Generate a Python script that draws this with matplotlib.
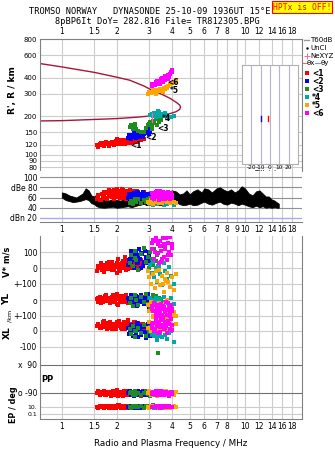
import numpy as np
import matplotlib
matplotlib.use("Agg")
import matplotlib.pyplot as plt
from matplotlib.ticker import NullLocator

W, H = 335, 451

# ---- echo classes (frequency MHz, range km, amplitude dB, V* m/s, YL km, XL km, PP deg, EP deg)
red_f   = [1.55,1.58,1.62,1.65,1.68,1.70,1.73,1.76,1.78,1.80,1.83,1.86,1.88,1.90,1.93,1.95,1.98,2.00,2.03,2.05,
           2.08,2.10,2.13,2.16,2.19,2.22,2.25,2.28,2.31,2.34,2.37,2.40,2.44,2.48,2.52,2.56,2.60,2.65,2.70,2.76] + \
          [1.57,1.63,1.69,1.74,1.81,1.87,1.92,1.97,2.02,2.07,2.12,2.18,2.24,2.30,2.36,2.42,2.50,2.58,2.64,2.72,2.80,1.99,2.21,2.46]
red_r   = [120,118,121,119,122,120,123,121,124,119,122,125,121,123,126,122,124,128,123,125,
           127,124,130,126,128,125,129,127,131,128,126,132,129,133,130,135,131,134,132,136] + \
          [116,124,117,126,118,127,119,129,121,130,122,131,124,133,125,128,134,127,137,130,133,132,121,126]
red_amp = [58,62,55,66,60,64,68,57,70,63,66,72,61,68,74,65,70,62,73,67,60,71,66,75,63,69,58,72,67,64,70,61,68,73,65,59,70,66,62,68] + \
          [64,56,70,60,74,66,58,72,64,68,76,60,70,62,74,56,66,72,60,64,70,76,68,62]
red_v   = [-20,10,5,-10,20,0,15,30,-5,10,25,0,40,15,-15,20,5,35,10,-5,25,15,0,45,20,10,-10,30,5,50,20,0,35,15,60,10,25,-5,40,20] + \
          [0,30,-25,15,40,-10,20,5,55,-20,30,10,45,-5,25,65,0,35,15,50,30,-30,70,10]
red_yl  = [5,-10,20,0,-15,10,25,-5,15,0,-20,10,5,30,-10,0,15,-25,5,20,-5,10,-15,0,25,-10,5,15,-20,0,10,-5,20,-30,5,15,-10,0,25,-5] + \
          [15,-20,5,30,-5,20,-15,10,-30,25,0,-10,35,-20,10,0,-25,15,5,-15,20,40,-5,10]
red_xl  = [30,45,20,35,55,25,40,15,50,30,60,20,35,45,25,40,10,50,30,65,35,20,45,30,55,15,40,25,50,35,20,45,30,60,25,40,50,30,15,45] + \
          [40,20,65,30,50,10,45,25,55,35,15,50,30,70,20,40,60,25,45,35,10,55,40,20]
red_pp  = [-90,-80,-100,-85,-95,-75,-105,-90,-82,-98,-88,-110,-92,-78,-100,-86,-94,-70,-90,-102,
           -84,-96,-88,-108,-80,-92,-100,-86,-94,-76,-90,-104,-82,-98,-88,-92,-84,-100,-90,-80] + \
          [-86,-96,-80,-104,-92,-84,-100,-88,-112,-94,-82,-98,-90,-76,-102,-86,-94,-80,-96,-108,-88,-92,-84,-100]
red_ep  = [10,5,20,8,15,6,12,25,9,4,18,11,7,14,22,10,5,16,8,30,12,6,20,9,14,7,25,10,4,18,11,8,15,6,12,20,9,13,7,16] + \
          [8,14,6,20,11,5,17,9,28,12,7,15,10,22,6,13,9,18,5,11,16,8,24,10]

blue_f   = [2.30,2.35,2.38,2.42,2.45,2.48,2.52,2.55,2.58,2.62,2.65,2.68,2.72,2.75,2.80,2.85,2.90,2.95,3.00,3.05,3.08,2.60] + \
           [2.33,2.40,2.47,2.54,2.61,2.70,2.78,2.88,2.98,3.02]
blue_r   = [136,140,134,142,138,145,139,147,141,143,137,149,144,140,146,150,148,152,155,150,158,144] + \
           [142,137,148,136,150,146,139,155,146,160]
blue_amp = [60,64,58,66,62,68,57,63,70,61,65,59,67,62,64,60,66,58,63,61,65,69] + [66,58,62,68,56,64,70,60,66,62]
blue_v   = [20,60,40,90,10,70,50,100,30,80,120,60,0,90,40,110,70,30,80,50,20,65] + [50,110,0,75,35,95,15,60,105,40]
blue_yl  = [10,-20,30,0,-30,15,-10,25,-40,5,20,-15,35,0,-25,10,-5,40,-20,15,0,-35] + [-5,25,-30,15,-20,35,-10,20,-45,5]
blue_xl  = [20,-10,40,0,-30,30,10,-20,50,-40,15,5,-25,35,-5,25,-15,45,0,-35,20,10] + [-20,30,5,-35,45,-10,25,-45,15,-5]
blue_pp  = [-90,-80,-100,-95,-85,-110,-88,-75,-92,-105,-82,-98,-90,-86,-100,-78,-94,-88,-104,-84,-96,-92] + \
           [-84,-98,-90,-106,-80,-94,-88,-100,-86,-92]
blue_ep  = [10,6,15,8,20,12,5,9,14,25,7,11,18,6,10,13,8,22,9,16,12,7] + [9,15,6,12,20,8,14,10,7,18]

green_f   = [2.35,2.40,2.45,2.50,2.55,2.62,2.70,2.80,2.90,2.95,3.00,3.05,3.10,3.15,3.20,3.25,3.30,3.40,3.50,2.52,3.12,3.35]
green_r   = [165,172,158,168,160,155,152,150,162,170,175,180,168,185,178,190,172,182,188,175,160,195]
green_amp = [50,54,48,56,52,58,49,55,51,57,53,60,50,54,48,56,52,55,50,58,53,51]
green_v   = [30,80,10,110,50,-10,90,130,40,70,0,100,60,20,120,45,85,15,140,65,25,95]
green_yl  = [-20,10,-40,30,0,-30,20,-10,40,-25,15,-45,5,35,-15,25,-35,10,-5,30,-20,0]
green_xl  = [10,-20,30,-40,0,20,-10,40,-30,15,-5,25,-25,5,35,-15,20,-35,10,0,30,-140]
green_pp  = [-90,-85,-100,-80,-95,-88,-105,-92,-78,-98,-86,-110,-90,-82,-96,-102,-88,-94,-84,-100,-90,-75]
green_ep  = [12,6,18,9,25,8,14,5,20,10,7,16,11,30,9,13,6,22,10,15,8,12]

cyan_f   = [3.05,3.10,3.15,3.20,3.25,3.30,3.38,3.45,3.52,3.60,3.68,3.75,3.85,3.95,4.10,3.35]
cyan_r   = [205,210,200,212,198,206,215,202,208,200,212,204,198,196,200,218]
cyan_amp = [48,52,46,54,50,47,53,49,51,45,55,48,50,52,46,50]
cyan_v   = [20,-30,40,-60,0,-90,10,-40,-110,30,-20,-70,5,-50,-100,15]
cyan_yl  = [10,-20,0,-40,15,-10,-30,5,-45,20,-15,-5,-35,10,-25,0]
cyan_xl  = [0,-20,10,-30,-5,-60,15,-10,-40,5,-25,-50,-15,0,-70,-35]
cyan_pp  = [-90,-85,-95,-100,-80,-92,-88,-105,-96,-84,-90,-98,-86,-94,-82,-100]
cyan_ep  = [10,8,14,6,18,11,9,20,7,12,15,10,5,13,16,9]

orange_f   = [2.95,3.00,3.08,3.15,3.22,3.30,3.38,3.45,3.52,3.60,3.68,3.75,3.82,3.90,4.00,4.10,4.20,3.55,3.72,3.25]
orange_r   = [300,310,305,318,312,322,316,328,320,330,324,335,345,355,365,372,385,312,338,298]
orange_amp = [52,50,55,48,57,53,50,56,49,54,58,51,53,49,55,52,50,57,54,51]
orange_v   = [-20,-60,-100,-40,-130,-80,-10,-110,-50,-150,-70,-30,-90,-120,-60,-140,-40,-100,-80,-20]
orange_yl  = [-30,-70,-10,-100,-50,-120,-20,-80,-40,-110,-60,0,-90,-130,-50,-75,-100,-25,-65,-85]
orange_xl  = [20,60,0,90,40,110,10,70,30,100,50,80,15,65,35,95,45,5,75,25]
orange_pp  = [-90,-80,-100,-86,-94,-110,-84,-92,-98,-76,-88,-104,-90,-82,-96,-100,-86,-92,-80,-94]
orange_ep  = [10,7,15,9,20,12,6,11,16,8,14,25,10,5,13,18,9,11,7,12]

mag_f   = [3.10,3.15,3.20,3.25,3.30,3.35,3.40,3.45,3.50,3.55,3.60,3.65,3.70,3.75,3.80,3.85,3.90,3.95,4.00,3.28,3.48,3.62] + \
          [3.12,3.22,3.32,3.42,3.52,3.58,3.68,3.78,3.88,3.98]
mag_r   = [345,352,360,370,355,380,365,372,390,375,400,385,410,395,420,405,430,440,455,362,382,392] + \
          [358,348,375,360,395,370,415,388,425,445]
mag_amp = [60,66,58,70,63,68,56,72,64,61,69,57,66,62,71,59,65,68,60,64,70,58] + [68,62,72,58,66,70,62,68,57,64]
mag_v   = [120,180,60,200,90,150,30,170,110,210,70,140,190,50,160,100,220,80,130,175,40,155] + \
          [160,100,220,140,60,190,120,80,200,150]
mag_yl  = [-40,-70,-20,-90,-55,-100,-30,-80,-60,-110,-45,-75,-15,-95,-65,-50,-85,-35,-70,-105,-25,-60] + \
          [-60,-30,-85,-50,-95,-40,-75,-20,-100,-55]
mag_xl  = [20,50,0,70,35,-10,60,25,80,40,10,55,30,-15,65,45,15,75,5,50,30,40] + [45,15,60,-5,35,70,20,50,10,40]
mag_pp  = [-90,-84,-96,-80,-100,-88,-92,-76,-104,-86,-94,-90,-82,-98,-88,-108,-92,-84,-96,-90,-80,-100] + \
          [-94,-86,-100,-82,-90,-98,-84,-96,-88,-92]
mag_ep  = [10,12,8,15,9,11,14,7,13,10,16,9,12,8,11,14,10,13,9,12,15,11] + [11,9,14,8,12,10,15,9,13,11]

CLASS_LABELS = ["<1", "<2", "<3", "*4", "*5", "<6"]
CLASS_COLORS = ["#ff0000", "#0000ff", "#1e8c1e", "#00a8a8", "#ffa500", "#ff00ff"]
classes = [
    (red_f, red_r, red_amp, red_v, red_yl, red_xl, red_pp, red_ep),
    (blue_f, blue_r, blue_amp, blue_v, blue_yl, blue_xl, blue_pp, blue_ep),
    (green_f, green_r, green_amp, green_v, green_yl, green_xl, green_pp, green_ep),
    (cyan_f, cyan_r, cyan_amp, cyan_v, cyan_yl, cyan_xl, cyan_pp, cyan_ep),
    (orange_f, orange_r, orange_amp, orange_v, orange_yl, orange_xl, orange_pp, orange_ep),
    (mag_f, mag_r, mag_amp, mag_v, mag_yl, mag_xl, mag_pp, mag_ep),
]

# class marker positions (freq, range)
mark_f = [2.35, 2.85, 3.30, 3.50, 3.90, 3.75]
mark_r = [118, 136, 160, 193, 318, 368]

# model profile curve
model_f = [0.76,1.0,1.5,2.0,2.35,2.8,3.1,3.5,3.9,4.2,4.4,4.45,4.4,4.2,3.9,3.5,3.1,2.6,2.0,1.5,1.0,0.76]
model_r = [515,485,440,403,382,345,320,298,276,258,245,236,226,217,210,205,202,197,192,189,185,184]

# NeXYZ mark
ne_f = 3.1
ne_r = [182, 214]

# background amplitude band
band_f  = [1.00,1.05,1.10,1.15,1.20,1.25,1.30,1.35,1.40,1.45,1.50,1.55,1.60,1.70,1.80,1.90,2.00,2.10,2.20,2.30,
           2.40,2.50,2.60,2.70,2.80,2.90,3.00,3.20,3.40,3.60,3.80,4.00,4.20,4.40,4.60,4.80,5.00,5.20,5.50,5.80,
           6.00,6.30,6.60,7.00,7.30,7.60,8.00,8.40,8.80,9.20,9.60,10.0,10.5,11.0,11.5,12.0,12.5,13.0,13.5,14.0,
           14.5,15.0,15.3]
band_lo = [60,55,53,51,52,53,55,57,55,49,47,43,41,40,41,42,40,41,42,43,
           41,43,45,46,48,45,46,48,45,46,48,50,52,47,45,46,48,45,46,50,
           52,48,46,50,52,48,46,50,48,45,48,46,43,41,44,41,43,40,41,40,
           41,40,40]
band_hi = [70,68,64,62,60,64,68,78,74,64,62,66,60,55,54,57,55,54,58,62,
           58,60,62,66,66,70,72,68,66,70,72,74,72,66,68,74,66,72,76,70,
           78,76,70,78,80,76,72,76,70,74,82,78,68,64,72,74,68,62,62,56,
           54,50,48]

# tilt inset marks
tilt_x = [-10, -2]
tilt_c = ["#0000ff", "#ff0000"]

FTICK_TOP = [1, 1.5, 2, 3, 4, 5, 6, 7, 8, 10, 12, 14, 16, 18]
FTICK_MID = [1, 1.5, 2, 3, 4, 5, 6, 7, 8, 9, 10, 12, 14, 16, 18]
FGRID = FTICK_MID
R_TICKS = [80, 90, 100, 120, 150, 200, 300, 400, 600, 800]

GRID = "#cccccc"
DARK = "#808080"
CURVE = "#a3173d"
FS = 5.5
MS = 5

fig = plt.figure(figsize=(W / 100, H / 100), dpi=100)


def px_axes(x0, y0, x1, y1):
    return fig.add_axes([x0 / W, 1 - y1 / H, (x1 - x0) / W, (y1 - y0) / H])


def freq_axis(ax, ticks):
    ax.set_xscale("log")
    ax.set_xlim(0.76, 20.5)
    ax.xaxis.set_minor_locator(NullLocator())
    ax.set_xticks(ticks)
    ax.set_xticklabels([f"{t:g}" for t in ticks])
    ax.tick_params(axis="x", length=0, labelsize=FS, pad=2)
    for f in FGRID:
        ax.axvline(f, color=GRID, lw=0.8, zorder=0)
    for s in ax.spines.values():
        s.set_color(DARK)
        s.set_linewidth(0.8)


# ---------------- top panel: virtual range
ax1 = px_axes(40, 39, 302, 171)
freq_axis(ax1, FTICK_TOP)
ax1.xaxis.tick_top()
ax1.set_yscale("log")
ax1.set_ylim(75, 800)
ax1.yaxis.set_minor_locator(NullLocator())
ax1.set_yticks(R_TICKS)
ax1.set_yticklabels([str(t) for t in R_TICKS])
ax1.tick_params(axis="y", length=0, labelsize=5, pad=2)
for r in R_TICKS:
    ax1.axhline(r, color=GRID, lw=0.8, zorder=0)
ax1.spines["bottom"].set_visible(False)
ax1.plot(model_f, model_r, color=CURVE, lw=1.0, zorder=2)
for (f, r, *_), col in zip(classes, CLASS_COLORS):
    ax1.scatter(f, r, s=MS, marker="s", c=col, linewidths=0, zorder=3)
ax1.plot([ne_f, ne_f], ne_r, color="#ff6699", lw=0.9, zorder=4)
for f, r, lab in zip(mark_f, mark_r, CLASS_LABELS):
    ax1.text(f, r, lab, fontsize=5.5, ha="left", va="center", zorder=5, fontweight="bold")
fig.text(13 / W, 1 - 90 / H, "R', R / km", rotation=90, fontsize=6.5, fontweight="bold",
         ha="center", va="center")

# tilt inset
axi = px_axes(242, 65, 298, 164)
axi.set_xlim(-30, 30)
axi.set_ylim(0, 1)
axi.set_yticks([])
axi.set_xticks([-20, -10, 0, 10, 20])
axi.set_xticklabels(["-20", "-10", "0", "10", "20"])
axi.tick_params(axis="x", length=0, labelsize=4.2, pad=1)
axi.set_xlabel("Tilt / deg", fontsize=4.8, labelpad=0)
for t in [-20, -10, 0, 10, 20]:
    axi.axvline(t, color="#b4b4cc", lw=0.8)
for s in axi.spines.values():
    s.set_color("#b0b0b0")
    s.set_linewidth(0.8)
for t, c in zip(tilt_x, tilt_c):
    axi.plot([t, t], [0.43, 0.48], color=c, lw=1.0)

# ---------------- amplitude panel
ax2 = px_axes(40, 171, 302, 222)
freq_axis(ax2, FTICK_MID)
ax2.set_ylim(12, 112)
ax2.set_yticks([100, 80, 60, 40, 20])
ax2.set_yticklabels(["100", "dBe 80", "60", "40", "dBn 20"])
ax2.tick_params(axis="y", length=0, labelsize=FS, pad=2)
for lv in [100, 80, 60, 40]:
    ax2.axhline(lv, color="#909090", lw=0.8, zorder=1)
ax2.axhline(20, color="#aaaaee", lw=1.0, zorder=1)
for side in ["top", "left", "right"]:
    ax2.spines[side].set_visible(False)
ax2.fill_between(band_f, band_lo, band_hi, color="black", lw=0.6, zorder=2)
for (f, _, amp, *_), col in zip(classes, CLASS_COLORS):
    ax2.scatter(f, amp, s=MS, marker="s", c=col, linewidths=0, zorder=3)

# ---------------- drift / position / polarisation panel (rows on one axis)
V0, Y0, X0 = 268, 300, 331
K = 0.157


def row(vals, base):
    return [base - v * K for v in vals]


def pp_row(vals):
    return [379 - v * 14 / 90 for v in vals]


def ep_row(vals):
    return [407 - (np.log10(v) - 1) * 3.5 for v in vals]


ax3 = px_axes(40, 236, 302, 419)
freq_axis(ax3, FTICK_TOP)
ax3.set_ylim(419, 236)
ytk = row([100, 0, -100], V0) + row([0, -100], Y0) + row([0, -100], X0) + pp_row([90, -90]) + ep_row([10, 0.1])
ylb = ["100", "0", "+-100", "o", "+-100", "0", "-100", "x  90", "o -90", "10.", "0.1"]
ax3.set_yticks(ytk)
ax3.set_yticklabels(ylb)
ax3.tick_params(axis="y", length=0, labelsize=FS, pad=2)
for lab in ax3.get_yticklabels()[-2:]:
    lab.set_fontsize(4.4)
for i, y in enumerate(ytk):
    dark = i in (7, 8)
    ax3.axhline(y, color="#707070" if dark else GRID, lw=0.8, zorder=1)
ax3.spines["top"].set_visible(False)
for (f, _, _, v, yl, xl, pp, ep), col in zip(classes, CLASS_COLORS):
    ax3.scatter(f, row(v, V0), s=MS, marker="s", c=col, linewidths=0, zorder=3)
    ax3.scatter(f, row(yl, Y0), s=MS, marker="s", c=col, linewidths=0, zorder=3)
    ax3.scatter(f, row(xl, X0), s=MS, marker="s", c=col, linewidths=0, zorder=3)
    ax3.scatter(f, pp_row(pp), s=MS, marker="s", c=col, linewidths=0, zorder=3)
    ax3.scatter(f, ep_row(ep), s=MS, marker="s", c=col, linewidths=0, zorder=3)
ax3.set_xlabel("Radio and Plasma Frequency / MHz", fontsize=6.3, labelpad=6)

fig.text(7 / W, 1 - 262 / H, "V* m/s", rotation=90, fontsize=6, fontweight="bold", ha="center", va="center")
fig.text(7 / W, 1 - 299 / H, "YL", rotation=90, fontsize=6.5, fontweight="bold", ha="center", va="center")
fig.text(10 / W, 1 - 316 / H, "/km", rotation=90, fontsize=4.6, ha="center", va="center")
fig.text(7 / W, 1 - 333 / H, "XL", rotation=90, fontsize=6.5, fontweight="bold", ha="center", va="center")
fig.text(47 / W, 1 - 379 / H, "PP", fontsize=6, fontweight="bold", ha="center", va="center")
fig.text(13 / W, 1 - 405 / H, "EP / deg", rotation=90, fontsize=5.8, fontweight="bold", ha="center", va="center")

# ---------------- header
fig.text(150 / W, 1 - 12 / H, "TROMSO NORWAY   DYNASONDE 25-10-09 1936UT 15°E",
         fontsize=6.2, family="DejaVu Sans Mono", ha="center", va="center")
fig.text(157 / W, 1 - 21 / H, "8pBP6It DoY= 282.816 File= TR812305.BPG",
         fontsize=6.2, family="DejaVu Sans Mono", ha="center", va="center")
fig.text(302 / W, 1 - 7 / H, "HPTx is OFF!", fontsize=5.8, family="DejaVu Sans Mono", color="red",
         ha="center", va="center",
         bbox=dict(boxstyle="square,pad=0.15", facecolor="yellow", edgecolor="red", lw=0.8))

# ---------------- legend (right margin)
axl = px_axes(302, 34, 335, 118)
axl.set_xlim(302, 335)
axl.set_ylim(118, 34)
axl.axis("off")
axl.plot([304, 309], [40, 40], color="#999999", lw=1)
axl.text(310, 40, "T60dB", fontsize=5, va="center")
axl.plot([307], [48], marker=".", ms=1.5, color="black")
axl.text(310, 48, "UnCl", fontsize=5, va="center")
axl.plot([307], [56], marker="+", ms=4, mew=0.7, color="#ff6699")
axl.text(310, 56, "NeXYZ", fontsize=5, va="center")
axl.plot([303, 307], [63, 63], color="#ff6666", lw=0.8)
axl.text(307, 63, "θx", fontsize=5, va="center")
axl.plot([315, 320], [63, 63], color="#8888ff", lw=0.8)
axl.text(321, 63, "θy", fontsize=5, va="center")
for i, (lab, col) in enumerate(zip(CLASS_LABELS, CLASS_COLORS)):
    y = 73 + 8 * i
    axl.scatter([307], [y], s=6, marker="s", c=col, linewidths=0)
    axl.text(312, y, lab, fontsize=5.5, va="center", fontweight="bold")

fig.savefig("out.png", dpi=100, facecolor="white")
